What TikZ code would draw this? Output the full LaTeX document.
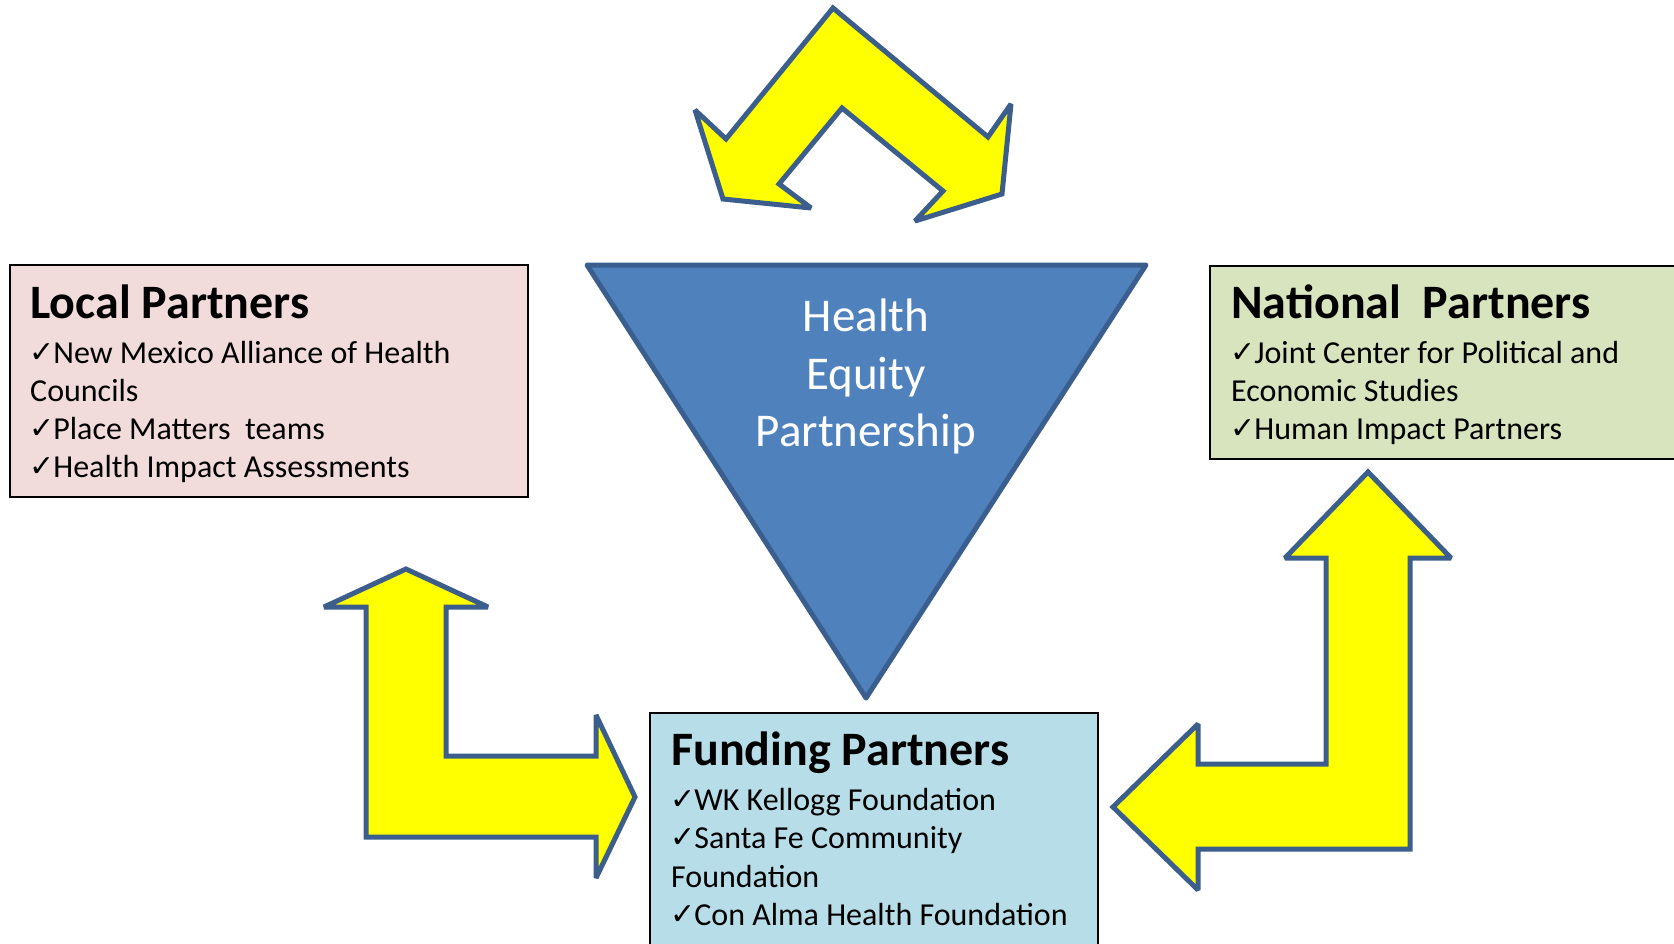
\documentclass[tikz,border=0pt]{standalone}
\usepackage{fontspec}
\setmainfont{Carlito}
\newfontfamily\symfont{DejaVu Sans}
\definecolor{localfill}{HTML}{F2DCDB}
\definecolor{natfill}{HTML}{D7E4BD}
\definecolor{fundfill}{HTML}{B7DEE8}
\definecolor{trifill}{HTML}{4F81BD}
\definecolor{triline}{HTML}{3A5F8E}
\definecolor{arrowline}{HTML}{3B5E8C}
\definecolor{arrowfill}{HTML}{FFFF00}
\newcommand{\chk}{{\symfont\fontsize{30}{30}\selectfont\raisebox{1pt}{✓}}\kern-1pt}
\tikzset{
  partnerbox/.style={draw=black, line width=2.5pt, anchor=north west, inner sep=0pt, outer sep=0pt},
  boxtitle/.style={anchor=base west, inner sep=0pt, font=\fontsize{48}{56}\selectfont\bfseries},
  boxline/.style={anchor=base west, inner sep=0pt, font=\fontsize{32}{38}\selectfont},
  tritext/.style={anchor=base, inner sep=0pt, text=white, font=\fontsize{47}{56}\selectfont},
  bigarrow/.style={fill=arrowfill, draw=arrowline, line width=5pt, line join=miter, miter limit=1.6},
}
\begin{document}
\begin{tikzpicture}[x=1pt, y=-1pt]
\useasboundingbox (0,0) rectangle (1674,943);

% partner boxes
\node[partnerbox, fill=localfill, minimum width=518pt, minimum height=232pt] (local) at (10,265) {};
\node[partnerbox, fill=natfill, minimum width=480pt, minimum height=193pt] (national) at (1210,266) {};
\node[partnerbox, fill=fundfill, minimum width=448pt, minimum height=260pt] (funding) at (650,713) {};

% central triangle
\filldraw[fill=trifill, draw=triline, line width=5pt, line join=round]
  (587,265) -- (1146,265) -- (866,698) -- cycle;
\node[tritext] (triA) at (866,331) {Health};
\node[tritext] (triB) at (866,389) {Equity};
\node[tritext] (triC) at (866,446) {Partnership};

% double-headed arrow over the triangle
\filldraw[bigarrow]
  (833,8) -- (988,137) -- (1011,104) -- (1002,194) -- (915,221) -- (943,191)
  -- (842,108) -- (779,184) -- (811,208) -- (723,199) -- (695,110) -- (726,139) -- cycle;

% arrow between local and funding partners
\filldraw[bigarrow]
  (406,569) -- (488,607) -- (446,607) -- (446,756) -- (596,756) -- (596,715)
  -- (635,797) -- (596,878) -- (596,837) -- (366,837) -- (366,607) -- (324,607) -- cycle;

% arrow between funding and national partners
\filldraw[bigarrow]
  (1368,472) -- (1451,558) -- (1410,558) -- (1410,849) -- (1198,849) -- (1198,890)
  -- (1113,807) -- (1198,724) -- (1198,764) -- (1326,764) -- (1326,558) -- (1285,558) -- cycle;

% local partners text
\node[boxtitle] (localT) at (30,318) {Local Partners};
\node[boxline] (local1) at (29,363) {\chk New Mexico Alliance of Health};
\node[boxline] (local2) at (30,401) {Councils};
\node[boxline] (local3) at (29,439) {\chk Place Matters \ teams};
\node[boxline] (local4) at (29,477) {\chk Health Impact Assessments};

% national partners text
\node[boxtitle] (natT) at (1231,318) {National \ Partners};
\node[boxline] (nat1) at (1230,363) {\chk Joint Center for Political and};
\node[boxline] (nat2) at (1231,401) {Economic Studies};
\node[boxline] (nat3) at (1230,439) {\chk Human Impact Partners};

% funding partners text
\node[boxtitle] (fundT) at (671,765) {Funding Partners};
\node[boxline] (fund1) at (670,810) {\chk WK Kellogg Foundation};
\node[boxline] (fund2) at (670,848) {\chk Santa Fe Community};
\node[boxline] (fund3) at (671,887) {Foundation};
\node[boxline] (fund4) at (670,925) {\chk Con Alma Health Foundation};
\end{tikzpicture}
\end{document}
